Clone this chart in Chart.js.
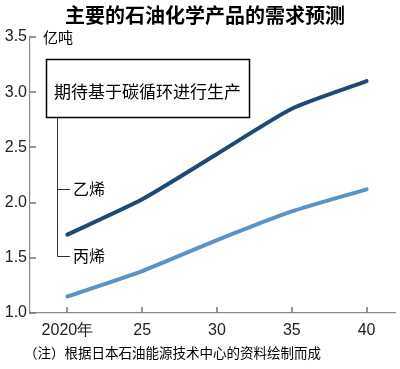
<!DOCTYPE html>
<html>
<head>
<meta charset="utf-8">
<script src="https://cdn.jsdelivr.net/npm/chart.js@4/dist/chart.umd.min.js"></script>
<style>
  html, body { margin: 0; padding: 0; background: #fff; }
  #wrap { width: 400px; height: 369px; position: relative; }
</style>
</head>
<body>
<div id="wrap"><canvas id="demandChart" width="400" height="369"></canvas></div>
<script>
// data
const years = [2020, 2025, 2030, 2035, 2040];
const ethylene = [1.71, 2.03, 2.44, 2.85, 3.10];
const propylene = [1.15, 1.38, 1.66, 1.92, 2.12];
const yTicks = [1.0, 1.5, 2.0, 2.5, 3.0, 3.5];
const xTickLabels = ["2020年", "25", "30", "35", "40"];

const title = "主要的石油化学产品的需求预测";
const unit = "亿吨";
const boxText = "期待基于碳循环进行生产";
const seriesNames = ["乙烯", "丙烯"];
const note = "（注）根据日本石油能源技术中心的资料绘制而成";

const cjk = '"Noto Sans CJK SC", "Noto Sans", sans-serif';
const narrow = '"Liberation Sans Narrow", "Liberation Sans", Arial, sans-serif';

// inward tick marks + annotations
const extras = {
  id: "extras",
  afterDraw(chart) {
    const ctx = chart.ctx;
    const x = chart.scales.x, y = chart.scales.y;
    const area = chart.chartArea;
    ctx.save();
    ctx.strokeStyle = "#777";
    ctx.lineWidth = 1.5;
    ctx.beginPath();
    yTicks.forEach(v => {
      const py = Math.round(y.getPixelForValue(v));
      ctx.moveTo(area.left, py);
      ctx.lineTo(area.left + 6, py);
    });
    years.forEach(v => {
      const px = Math.round(x.getPixelForValue(v));
      ctx.moveTo(px, area.bottom);
      ctx.lineTo(px, area.bottom - 6);
    });
    ctx.stroke();

    // title
    ctx.fillStyle = "#000";
    ctx.textBaseline = "middle";
    ctx.textAlign = "center";
    ctx.font = "bold 20px " + cjk;
    ctx.fillText(title, 205, 15);

    // unit
    ctx.textAlign = "left";
    ctx.font = "15px " + cjk;
    ctx.fillText(unit, 43, 37);

    // box
    ctx.strokeStyle = "#000";
    ctx.lineWidth = 1.5;
    ctx.fillStyle = "#fff";
    ctx.fillRect(46, 59, 204, 59);
    ctx.strokeRect(46.5, 59.5, 203, 58);
    ctx.fillStyle = "#000";
    ctx.font = "17px " + cjk;
    ctx.fillText(boxText, 54, 92);

    // leader lines
    const yEth = 189, yPro = 256;
    ctx.lineWidth = 1;
    ctx.strokeStyle = "#333";
    ctx.beginPath();
    ctx.moveTo(57.5, 118);
    ctx.lineTo(57.5, yPro + 0.5);
    ctx.lineTo(70, yPro + 0.5);
    ctx.moveTo(57.5, yEth + 0.5);
    ctx.lineTo(70, yEth + 0.5);
    ctx.stroke();
    ctx.font = "16px " + cjk;
    ctx.fillText(seriesNames[0], 73, yEth);
    ctx.fillText(seriesNames[1], 73, yPro);

    // note
    ctx.font = "13.5px " + cjk;
    ctx.fillText(note, 24, 353);
    ctx.restore();
  }
};

const ctx = document.getElementById("demandChart").getContext("2d");

new Chart(ctx, {
  type: "line",
  data: {
    datasets: [
      {
        label: seriesNames[0],
        data: years.map((yr, i) => ({ x: yr, y: ethylene[i] })),
        borderColor: "#1c4a72",
        borderWidth: 4,
        tension: 0.2,
        pointRadius: 0,
        borderCapStyle: "round",
      },
      {
        label: seriesNames[1],
        data: years.map((yr, i) => ({ x: yr, y: propylene[i] })),
        borderColor: "#5a93c8",
        borderWidth: 4,
        tension: 0.2,
        pointRadius: 0,
        borderCapStyle: "round",
      },
    ],
  },
  options: {
    responsive: false,
    animation: false,
    layout: { padding: { top: 37, right: 5, left: 0, bottom: 0 } },
    plugins: {
      legend: { display: false },
      tooltip: { enabled: false },
    },
    scales: {
      x: {
        type: "linear",
        min: 2017.5,
        max: 2041.9,
        afterBuildTicks: s => { s.ticks = years.map(v => ({ value: v })); },
        afterFit: s => { s.height = 56; },
        ticks: {
          callback: (v) => xTickLabels[years.indexOf(v)],
          color: "#222",
          font: { family: narrow, size: 16 },
          padding: 8,
          maxRotation: 0,
          autoSkip: false,
        },
        grid: { display: false, drawTicks: false },
        border: { color: "#8a8a8a", width: 1.2 },
      },
      y: {
        min: 1.0,
        max: 3.5,
        afterBuildTicks: s => { s.ticks = yTicks.map(v => ({ value: v })); },
        afterFit: s => { s.width = 30; },
        ticks: {
          callback: v => v.toFixed(1),
          color: "#222",
          font: { family: narrow, size: 16 },
          padding: 3,
        },
        grid: { display: false, drawTicks: false },
        border: { color: "#8a8a8a", width: 1.2 },
      },
    },
  },
  plugins: [extras],
});
</script>
</body>
</html>
